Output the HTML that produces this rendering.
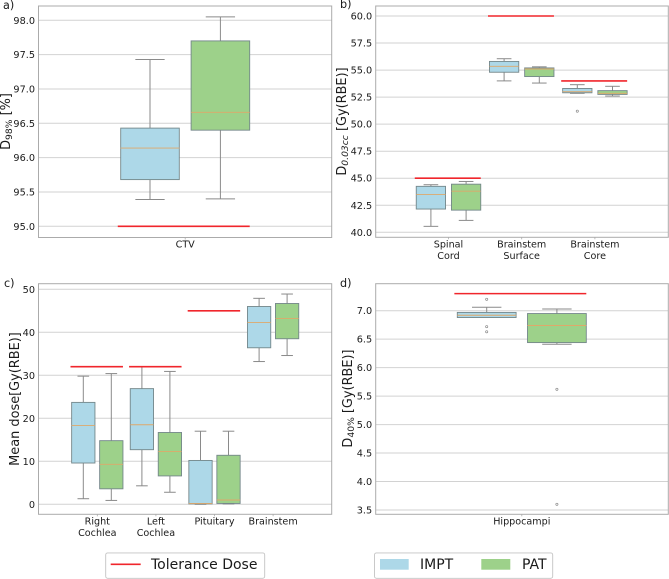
<!DOCTYPE html>
<html lang="en">
<head>
<meta charset="utf-8">
<title>Dose comparison box plots</title>
<style>
html,body{margin:0;padding:0;background:#fff;}
body{width:669px;height:579px;overflow:hidden;}
svg{display:block;filter:blur(0.35px);}
text{font-family:"DejaVu Sans","Liberation Sans",sans-serif;fill:#1a1a1a;}
</style>
</head>
<body>
<svg id="figure" width="669" height="579" viewBox="0 0 669 579" xmlns="http://www.w3.org/2000/svg"></svg>
<script>
// Each stats entry: [whisker low, Q1, median, Q3, whisker high]
const aCategories = [["CTV"]];
const aTicks = [95.0, 95.5, 96.0, 96.5, 97.0, 97.5, 98.0];
const aTickLabels = ["95.0", "95.5", "96.0", "96.5", "97.0", "97.5", "98.0"];
const aImpt = [[95.39, 95.68, 96.14, 96.43, 97.43]];
const aPat = [[95.40, 96.40, 96.66, 97.70, 98.05]];
const aTolerance = [95.0];
const aImptOutliers = [[]];
const aPatOutliers = [[]];

const bCategories = [["Spinal", "Cord"], ["Brainstem", "Surface"], ["Brainstem", "Core"]];
const bTicks = [40, 42.5, 45, 47.5, 50, 52.5, 55, 57.5, 60];
const bTickLabels = ["40.0", "42.5", "45.0", "47.5", "50.0", "52.5", "55.0", "57.5", "60.0"];
const bImpt = [[40.55, 42.15, 43.5, 44.25, 44.4], [54.0, 54.8, 55.35, 55.8, 56.05], [52.85, 52.9, 53.0, 53.3, 53.65]];
const bPat = [[41.1, 42.05, 43.8, 44.45, 44.7], [53.8, 54.4, 55.1, 55.2, 55.3], [52.6, 52.75, 52.85, 53.1, 53.5]];
const bTolerance = [45, 60, 54];
const bImptOutliers = [[], [], [51.2]];
const bPatOutliers = [[], [], []];

const cCategories = [["Right", "Cochlea"], ["Left", "Cochlea"], ["Pituitary"], ["Brainstem"]];
const cTicks = [0, 10, 20, 30, 40, 50];
const cTickLabels = ["0", "10", "20", "30", "40", "50"];
const cImpt = [[1.3, 9.6, 18.3, 23.7, 29.8], [4.3, 12.7, 18.5, 26.9, 32], [0, 0.1, 0.2, 10.2, 17], [33.2, 36.4, 42.3, 46, 47.9]];
const cPat = [[0.9, 3.6, 9.3, 14.8, 30.4], [2.8, 6.6, 12.3, 16.7, 30.9], [0.1, 0.2, 1, 11.4, 17], [34.6, 38.5, 43.2, 46.7, 48.9]];
const cTolerance = [32, 32, 45, null];
const cImptOutliers = [[], [], [], []];
const cPatOutliers = [[], [], [], []];

const dCategories = [["Hippocampi"]];
const dTicks = [3.5, 4.0, 4.5, 5.0, 5.5, 6.0, 6.5, 7.0];
const dTickLabels = ["3.5", "4.0", "4.5", "5.0", "5.5", "6.0", "6.5", "7.0"];
const dImpt = [[6.88, 6.88, 6.92, 6.97, 7.06]];
const dPat = [[6.41, 6.44, 6.74, 6.95, 7.03]];
const dTolerance = [7.3];
const dImptOutliers = [[7.2, 6.72, 6.63]];
const dPatOutliers = [[5.62, 3.6]];

const NS = "http://www.w3.org/2000/svg";
const root = document.getElementById("figure");
const BLUE = "#add8e8";
const GREEN = "#9dd18a";

function mk(tag, attrs, parent) {
  const el = document.createElementNS(NS, tag);
  for (const k in attrs) el.setAttribute(k, attrs[k]);
  (parent || root).appendChild(el);
  return el;
}

function drawBox(g, stats, outliers, cx, w, fill, y, seriesName) {
  const whisker = "#8a8a8a";
  const lowW = mk("line", {x1: cx, x2: cx, y1: y(stats[0]), y2: y(stats[1]), stroke: whisker, "stroke-width": 1}, g);
  
  
  const highW = mk("line", {x1: cx, x2: cx, y1: y(stats[3]), y2: y(stats[4]), stroke: whisker, "stroke-width": 1}, g);
  
  
  const lowC = mk("line", {x1: cx - w / 4, x2: cx + w / 4, y1: y(stats[0]), y2: y(stats[0]), stroke: whisker, "stroke-width": 1}, g);
  
  
  const highC = mk("line", {x1: cx - w / 4, x2: cx + w / 4, y1: y(stats[4]), y2: y(stats[4]), stroke: whisker, "stroke-width": 1}, g);
  
  
  const box = mk("rect", {x: cx - w / 2, width: w, y: y(stats[3]), height: Math.max(0.5, y(stats[1]) - y(stats[3])), fill: fill, stroke: "#74878a", "stroke-width": 0.9}, g);
  
  
  const med = mk("line", {x1: cx - w / 2, x2: cx + w / 2, y1: y(stats[2]), y2: y(stats[2]), stroke: "#dfa86a", "stroke-width": 0.9}, g);
  
  
  outliers.forEach(function (v) {
    const o = mk("circle", {cx: cx, cy: y(v), r: 1.1, fill: "none", stroke: "#888", "stroke-width": 0.7}, g);
    
    
  });
}

function drawPanel(p) {
  const g = mk("g", {});
  
  
  const y = function (v) {
    return p.yTop + (p.vTop - v) * (p.yBottom - p.yTop) / (p.vTop - p.vBottom);
  };
  const x = function (i) { return p.x0 + i * p.step; };

  const bg = mk("rect", {x: p.left, y: p.top, width: p.right - p.left, height: p.bottom - p.top, fill: "#fff"}, g);
  
  

  p.ticks.forEach(function (t, i) {
    const gl = mk("line", {x1: p.left, x2: p.right, y1: y(t), y2: y(t), stroke: "#d2d2d2", "stroke-width": 1}, g);
    
    
    const tl = mk("text", {x: p.left - 3.5, y: y(t) + 3.5, "text-anchor": "end", "font-size": 9.7}, g);
    tl.textContent = p.tickLabels[i];
    
    
  });

  const frame = mk("rect", {x: p.left, y: p.top, width: p.right - p.left, height: p.bottom - p.top, fill: "none", stroke: "#ababab", "stroke-width": 1}, g);
  
  

  p.categories.forEach(function (lines, i) {
    const cx = x(i);
    const tick = mk("line", {x1: cx, x2: cx, y1: p.bottom, y2: p.bottom + 2, stroke: "#ababab", "stroke-width": 0.8}, g);
    
    
    lines.forEach(function (line, j) {
      const tl = mk("text", {x: cx, y: p.bottom + 10 + j * 11.6, "text-anchor": "middle", "font-size": 9.6}, g);
      tl.textContent = line;
      
      
    });
    drawBox(g, p.impt[i], p.imptOut[i], cx - p.offset, p.boxW, BLUE, y, 'impt');
    drawBox(g, p.pat[i], p.patOut[i], cx + p.offset, p.boxW, GREEN, y, 'pat');
  });

  p.tolerance.forEach(function (v, i) {
    if (v === null) return;
    const cx = x(i);
    const half = p.offset + p.boxW / 2;
    const r = mk("line", {x1: cx - half - p.boxW * 0.05, x2: cx + half, y1: y(v), y2: y(v), stroke: "#f0262c", "stroke-width": 1.6}, g);
    
    
  });

  const yl = mk("text", {transform: "translate(" + p.labelX + "," + p.labelY + ") rotate(-90)", "text-anchor": "middle", "font-size": 12.9}, g);
  
  
  p.label.forEach(function (part) {
    const ts = mk("tspan", {}, yl);
    ts.textContent = part.t;
    if (part.sub) {
      ts.setAttribute("font-size", "9.2");
      ts.setAttribute("dy", "2.2");
      if (part.italic) ts.setAttribute("font-style", "italic");
    } else if (part.up) {
      ts.setAttribute("dy", "-2.2");
    }
  });

  const pl = mk("text", {x: p.tagX, y: p.tagY, "font-size": 11.2}, g);
  pl.textContent = p.id + ")";
  
  
}

drawPanel({id: "a", left: 38.5, right: 331.7, top: 6, bottom: 237.5, yTop: 20.3, yBottom: 226.3, vTop: 98, vBottom: 95,
  x0: 185.2, step: 0, offset: 35.2, boxW: 58.6, categories: aCategories, ticks: aTicks, tickLabels: aTickLabels,
  impt: aImpt, pat: aPat, imptOut: aImptOutliers, patOut: aPatOutliers, tolerance: aTolerance,
  label: [{t: "D"}, {t: "98%", sub: true}, {t: " [%]", up: true}], labelX: 10, labelY: 121.5, tagX: 3, tagY: 9});

drawPanel({id: "b", left: 375.7, right: 668.3, top: 6, bottom: 237.3, yTop: 16, yBottom: 232.3, vTop: 60, vBottom: 40,
  x0: 448.5, step: 73.2, offset: 17.6, boxW: 29.3, categories: bCategories, ticks: bTicks, tickLabels: bTickLabels,
  impt: bImpt, pat: bPat, imptOut: bImptOutliers, patOut: bPatOutliers, tolerance: bTolerance,
  label: [{t: "D"}, {t: "0.03cc", sub: true, italic: true}, {t: " [Gy(RBE)]", up: true}], labelX: 346, labelY: 121.5, tagX: 340, tagY: 8});

drawPanel({id: "c", left: 38.5, right: 331.7, top: 283.7, bottom: 514.3, yTop: 289.3, yBottom: 504.3, vTop: 50, vBottom: 0,
  x0: 97.3, step: 58.6, offset: 14, boxW: 23.3, categories: cCategories, ticks: cTicks, tickLabels: cTickLabels,
  impt: cImpt, pat: cPat, imptOut: cImptOutliers, patOut: cPatOutliers, tolerance: cTolerance,
  label: [{t: "Mean dose[Gy(RBE)]"}], labelX: 19, labelY: 399, tagX: 4, tagY: 287});

drawPanel({id: "d", left: 375.7, right: 668.3, top: 283.7, bottom: 514.3, yTop: 310.7, yBottom: 510, vTop: 7, vBottom: 3.5,
  x0: 521.8, step: 0, offset: 35.1, boxW: 58.8, categories: dCategories, ticks: dTicks, tickLabels: dTickLabels,
  impt: dImpt, pat: dPat, imptOut: dImptOutliers, patOut: dPatOutliers, tolerance: dTolerance,
  label: [{t: "D"}, {t: "40%", sub: true}, {t: " [Gy(RBE)]", up: true}], labelX: 352, labelY: 398.5, tagX: 340, tagY: 287});

// Legends
const legL = mk("g", {});


const legLBox = mk("rect", {x: 105.7, y: 552.9, width: 159, height: 25.4, rx: 2, fill: "#fff", stroke: "#c4c4c4", "stroke-width": 0.9}, legL);


const legLLine = mk("line", {x1: 110.7, x2: 140.7, y1: 564.3, y2: 564.3, stroke: "#f0262c", "stroke-width": 1.6}, legL);


const legLText = mk("text", {x: 151, y: 569, "font-size": 14}, legL);
legLText.textContent = "Tolerance Dose";



const legR = mk("g", {});


const legRBox = mk("rect", {x: 374.5, y: 552.9, width: 178.2, height: 25.4, rx: 2, fill: "#fff", stroke: "#c4c4c4", "stroke-width": 0.9}, legR);


const legBlue = mk("rect", {x: 380, y: 559, width: 28.7, height: 10.7, fill: BLUE}, legR);


const legBlueText = mk("text", {x: 420, y: 569, "font-size": 14}, legR);
legBlueText.textContent = "IMPT";


const legGreen = mk("rect", {x: 481.3, y: 559, width: 29, height: 10.7, fill: GREEN}, legR);


const legGreenText = mk("text", {x: 522, y: 569, "font-size": 14}, legR);
legGreenText.textContent = "PAT";


</script>
</body>
</html>
